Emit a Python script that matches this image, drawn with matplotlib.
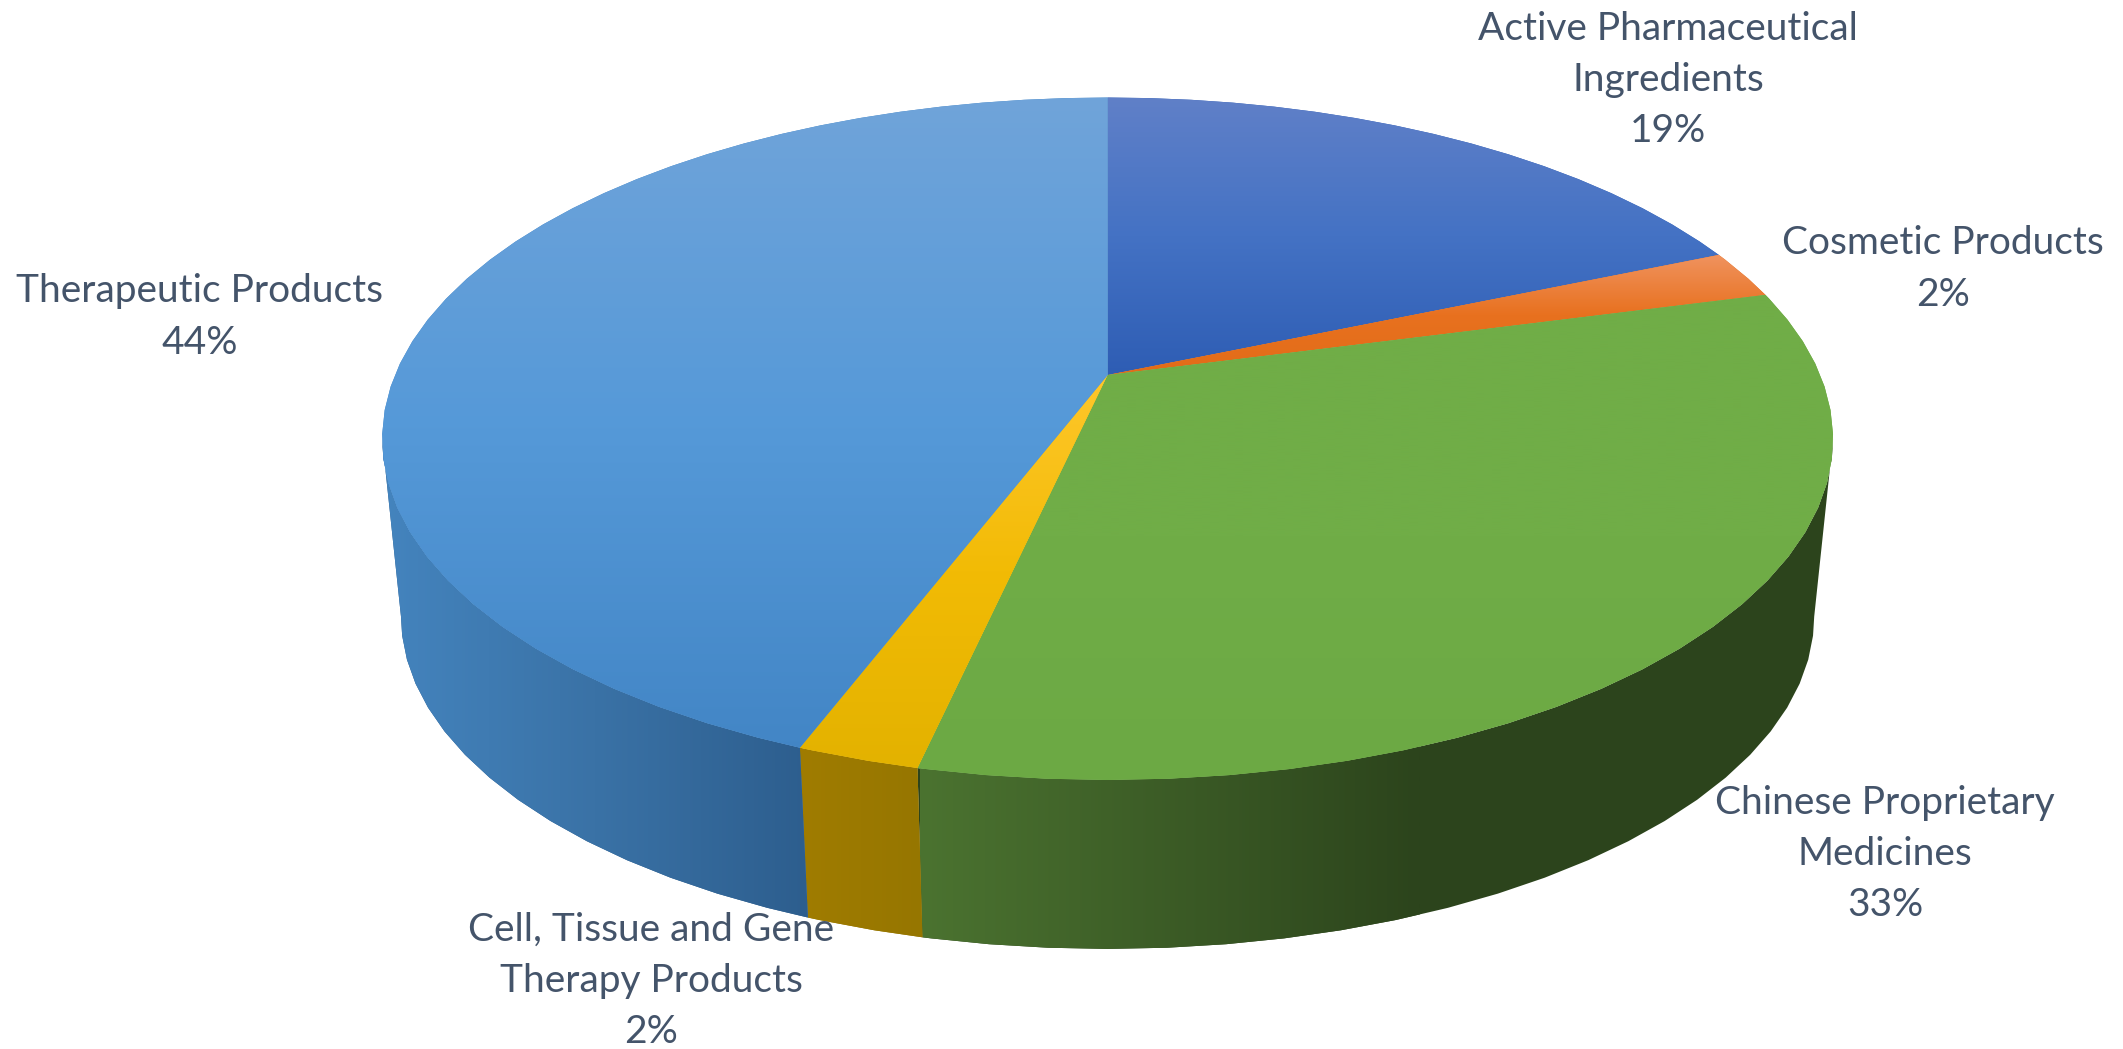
# 3D looking pie, drawn by hand since matplotlib's pie is flat
import numpy as np
import matplotlib
matplotlib.use("Agg")
import matplotlib.pyplot as plt
from matplotlib.colors import LinearSegmentedColormap
from matplotlib.patches import Polygon

slice_names = ["Active Pharmaceutical\nIngredients", "Cosmetic Products",
               "Chinese Proprietary\nMedicines",
               "Cell, Tissue and Gene\nTherapy Products", "Therapeutic Products"]
slice_values = [18.6, 2.3, 32.6, 2.3, 44.2]
pct_labels = ["19%", "2%", "33%", "2%", "44%"]

# colours from top to bottom of the top face
top_colors = [["#6080C8", "#4472C4", "#2E5DB4"],
              ["#F0935F", "#E8711F", "#E26C18"],
              ["#70AD47", "#70AD47", "#6CA944"],
              ["#FFC72C", "#F2BB05", "#E3B200"],
              ["#70A4DA", "#5599D8", "#4285C5"]]
# colours from left to right of the side wall
wall_colors = [["#2F5597", "#2F5597"],
               ["#843C0C", "#843C0C"],
               ["#4B7330", "#2C441C"],
               ["#A07C00", "#967600"],
               ["#4484BE", "#3A72A6", "#2D5E8E"]]
label_pos = [(1668, 80), (1943, 269), (1885, 854), (651, 981), (200, 317)]

W, H = 2123, 1049
CX = 1107.6
K = 0.1868     # perspective of the disc
# the wall is only seen between the two tangent points of the outline
WALL_FROM, WALL_TO = np.degrees(np.arccos(-K)), 360 - np.degrees(np.arccos(-K))


def project(theta, y0, scale):
    # theta in degrees clockwise from 12 o'clock, returns pixel coords
    t = np.radians(theta)
    X, Y = np.sin(t), np.cos(t)
    d = 1 + K * Y
    return CX + scale * 712.7 * X / d, y0 - scale * 329.3 * Y / d


def facet_angles(a, b):
    # outline of the original is polygonal, a few deg a facet
    step = 4.0
    inner = np.arange(np.ceil(a / step) * step, b, step)
    return np.concatenate([[a], inner, [b]])


def fill_gradient(ax, xy, colors, horizontal, span):
    cmap = LinearSegmentedColormap.from_list("g", colors)
    grad = np.linspace(0, 1, 256)
    patch = Polygon(xy, closed=True, facecolor=colors[-1], edgecolor="none", zorder=ax.z)
    ax.add_patch(patch)
    if horizontal:
        img = grad.reshape(1, -1)
        extent = (span[0], span[1], H, 0)
    else:
        img = grad.reshape(-1, 1)
        extent = (0, W, span[1], span[0])
    im = ax.imshow(img, cmap=cmap, extent=extent, aspect="auto", origin="upper",
                   interpolation="bilinear", zorder=ax.z + 0.1)
    im.set_clip_path(Polygon(xy, closed=True, transform=ax.transData))
    ax.z += 1


fig = plt.figure(figsize=(W / 100, H / 100), dpi=100)
ax = fig.add_axes([0, 0, 1, 1])
ax.z = 1

edges = np.concatenate([[0], np.cumsum(slice_values)]) / sum(slice_values) * 360

# side walls first, the top faces cover whatever is behind
for i in range(len(slice_values)):
    a, b = max(edges[i], WALL_FROM), min(edges[i + 1], WALL_TO)
    if a >= b:
        continue
    th = facet_angles(a, b)
    xt, yt = project(th, 375, 1.0)
    xb, yb = project(th, 554.5, 0.974)
    xy = np.column_stack([np.r_[xt, xb[::-1]], np.r_[yt, yb[::-1]]])
    if i == 2:
        span = (920, 1420)
    else:
        span = (xy[:, 0].min(), xy[:, 0].max())
    fill_gradient(ax, xy, wall_colors[i], True, span)

for i in range(len(slice_values)):
    th = facet_angles(edges[i], edges[i + 1])
    xt, yt = project(th, 375, 1.0)
    xy = np.column_stack([np.r_[CX, xt], np.r_[375, yt]])
    span = (yt.min() if yt.min() < 375 else 375, max(yt.max(), 375))
    if i == 0 or i == 4:
        span = (97, 375 if i == 0 else 760)
    fill_gradient(ax, xy, top_colors[i], False, span)

for name, pct, pos in zip(slice_names, pct_labels, label_pos):
    ax.text(pos[0], pos[1], name + "\n" + pct, ha="center", va="center",
            family="Lato", fontsize=28, color="#44546A", linespacing=1.52, zorder=50)

ax.set_xlim(0, W)
ax.set_ylim(H, 0)
ax.axis("off")
fig.savefig("out.png", dpi=100, facecolor="white")
